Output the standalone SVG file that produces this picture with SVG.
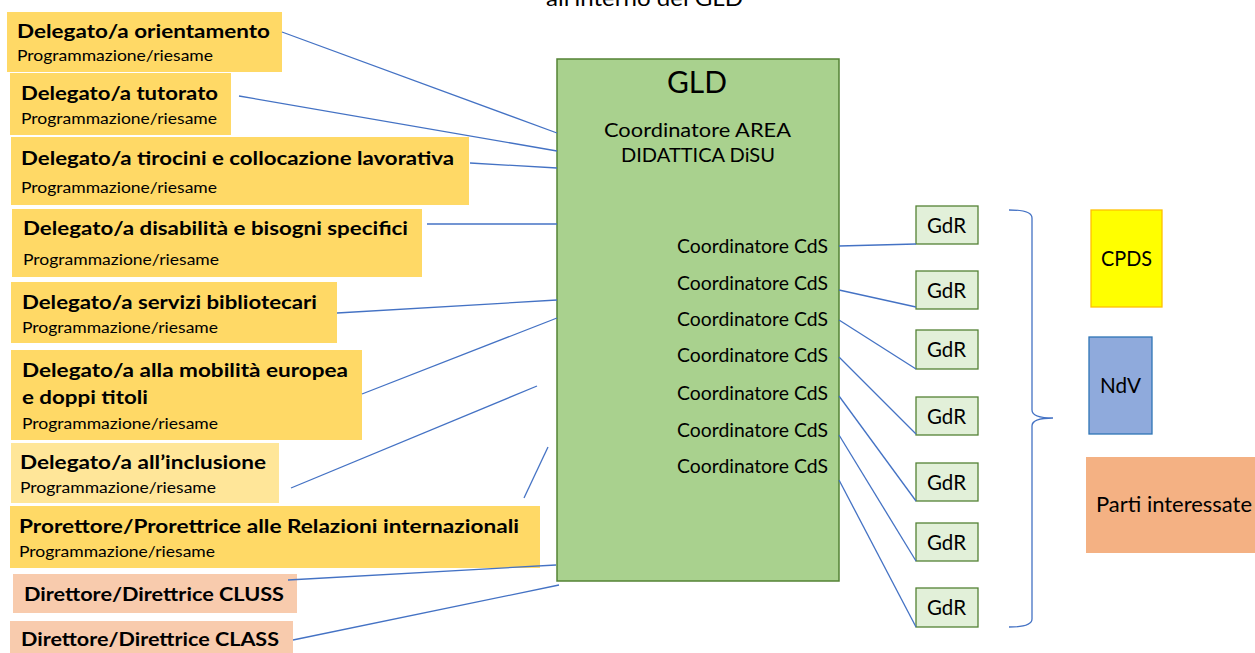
<svg xmlns="http://www.w3.org/2000/svg" width="1255" height="653" viewBox="0 0 1255 653">
<style>
text{font-family:Lato,"Open Sans","Liberation Sans",sans-serif;fill:#000}
.t{font-size:19.5px;font-weight:bold}
.s{font-size:15.3px}
.y{fill:#FFD966}
.yl{fill:#FFE699}
.p{fill:#F8CBAD}
.gdr{fill:#E2F0D9;stroke:#548235;stroke-width:1.3}
.gt{font-size:21px}
.cds{font-size:18.5px}
.c line,.c path{stroke:#4472C4;stroke-width:1.3;fill:none}
</style>
<rect width="1255" height="653" fill="#fff"/>
<text x="546" y="6" font-size="21" textLength="197" lengthAdjust="spacingAndGlyphs">all’interno del GLD</text>

<g id="n-orientamento"><rect class="y" x="7" y="12" width="275" height="60"/>
<text class="t" x="17" y="38" textLength="253" lengthAdjust="spacingAndGlyphs">Delegato/a orientamento</text>
<text class="s" x="17" y="61" textLength="196" lengthAdjust="spacingAndGlyphs">Programmazione/riesame</text></g>

<g id="n-tutorato"><rect class="y" x="10" y="73" width="221" height="62"/>
<text class="t" x="21" y="100" textLength="197" lengthAdjust="spacingAndGlyphs">Delegato/a tutorato</text>
<text class="s" x="21" y="124" textLength="196" lengthAdjust="spacingAndGlyphs">Programmazione/riesame</text></g>

<g id="n-tirocini"><rect class="y" x="11" y="137" width="458" height="68"/>
<text class="t" x="21" y="165" textLength="433" lengthAdjust="spacingAndGlyphs">Delegato/a tirocini e collocazione lavorativa</text>
<text class="s" x="21" y="193" textLength="196" lengthAdjust="spacingAndGlyphs">Programmazione/riesame</text></g>

<g id="n-disabilita"><rect class="y" x="12" y="209" width="410" height="68"/>
<text class="t" x="23" y="235" textLength="385" lengthAdjust="spacingAndGlyphs">Delegato/a disabilità e bisogni specifici</text>
<text class="s" x="23" y="265" textLength="196" lengthAdjust="spacingAndGlyphs">Programmazione/riesame</text></g>

<g id="n-biblioteche"><rect class="y" x="11" y="282" width="326" height="61"/>
<text class="t" x="22" y="309" textLength="295" lengthAdjust="spacingAndGlyphs">Delegato/a servizi bibliotecari</text>
<text class="s" x="22" y="333" textLength="196" lengthAdjust="spacingAndGlyphs">Programmazione/riesame</text></g>

<g id="n-mobilita"><rect class="y" x="11" y="350" width="351" height="90"/>
<text class="t" x="22" y="377" textLength="326" lengthAdjust="spacingAndGlyphs">Delegato/a alla mobilità europea</text>
<text class="t" x="22" y="404" textLength="126" lengthAdjust="spacingAndGlyphs">e doppi titoli</text>
<text class="s" x="22" y="429" textLength="196" lengthAdjust="spacingAndGlyphs">Programmazione/riesame</text></g>

<g id="n-inclusione"><rect class="yl" x="11" y="443" width="268" height="60"/>
<text class="t" x="20" y="469" textLength="246" lengthAdjust="spacingAndGlyphs">Delegato/a all’inclusione</text>
<text class="s" x="20" y="493" textLength="196" lengthAdjust="spacingAndGlyphs">Programmazione/riesame</text></g>

<g id="n-prorettore"><rect class="y" x="10" y="506" width="530" height="62"/>
<text class="t" x="19" y="533" textLength="500" lengthAdjust="spacingAndGlyphs">Prorettore/Prorettrice alle Relazioni internazionali</text>
<text class="s" x="19" y="557" textLength="196" lengthAdjust="spacingAndGlyphs">Programmazione/riesame</text></g>

<g id="n-cluss"><rect class="p" x="13" y="574" width="284" height="39"/>
<text class="t" x="24" y="601" textLength="260" lengthAdjust="spacingAndGlyphs">Direttore/Direttrice CLUSS</text></g>

<g id="n-class"><rect class="p" x="10" y="621" width="283" height="40"/>
<text class="t" x="21" y="646" textLength="258" lengthAdjust="spacingAndGlyphs">Direttore/Direttrice CLASS</text></g>

<g id="n-gld"><rect x="557" y="59" width="282" height="522" fill="#A9D18E" stroke="#548235" stroke-width="1.5"/>
<text x="667" y="93" font-size="30.5" textLength="60" lengthAdjust="spacingAndGlyphs">GLD</text>
<text x="604" y="137" font-size="19.5" textLength="187" lengthAdjust="spacingAndGlyphs">Coordinatore AREA</text>
<text x="621" y="162" font-size="19.5" textLength="154" lengthAdjust="spacingAndGlyphs">DIDATTICA DiSU</text>
<text class="cds" x="677" y="253" textLength="151" lengthAdjust="spacingAndGlyphs">Coordinatore CdS</text>
<text class="cds" x="677" y="290" textLength="151" lengthAdjust="spacingAndGlyphs">Coordinatore CdS</text>
<text class="cds" x="677" y="326" textLength="151" lengthAdjust="spacingAndGlyphs">Coordinatore CdS</text>
<text class="cds" x="677" y="362" textLength="151" lengthAdjust="spacingAndGlyphs">Coordinatore CdS</text>
<text class="cds" x="677" y="400" textLength="151" lengthAdjust="spacingAndGlyphs">Coordinatore CdS</text>
<text class="cds" x="677" y="437" textLength="151" lengthAdjust="spacingAndGlyphs">Coordinatore CdS</text>
<text class="cds" x="677" y="473" textLength="151" lengthAdjust="spacingAndGlyphs">Coordinatore CdS</text></g>

<g id="n-gdr1"><rect class="gdr" x="916" y="206" width="62" height="38"/><text class="gt" x="927" y="233" textLength="39" lengthAdjust="spacingAndGlyphs">GdR</text></g>
<g id="n-gdr2"><rect class="gdr" x="916" y="271" width="62" height="38"/><text class="gt" x="927" y="298" textLength="39" lengthAdjust="spacingAndGlyphs">GdR</text></g>
<g id="n-gdr3"><rect class="gdr" x="916" y="330" width="62" height="39"/><text class="gt" x="927" y="357" textLength="39" lengthAdjust="spacingAndGlyphs">GdR</text></g>
<g id="n-gdr4"><rect class="gdr" x="916" y="397" width="62" height="38"/><text class="gt" x="927" y="424" textLength="39" lengthAdjust="spacingAndGlyphs">GdR</text></g>
<g id="n-gdr5"><rect class="gdr" x="916" y="463" width="62" height="38"/><text class="gt" x="927" y="490" textLength="39" lengthAdjust="spacingAndGlyphs">GdR</text></g>
<g id="n-gdr6"><rect class="gdr" x="916" y="523" width="62" height="38"/><text class="gt" x="927" y="550" textLength="39" lengthAdjust="spacingAndGlyphs">GdR</text></g>
<g id="n-gdr7"><rect class="gdr" x="916" y="588" width="62" height="39"/><text class="gt" x="927" y="615" textLength="39" lengthAdjust="spacingAndGlyphs">GdR</text></g>

<g id="n-cpds"><rect x="1091" y="210" width="71" height="97" fill="#FFFF00" stroke="#FFC000" stroke-width="1.3"/>
<text x="1101" y="266" font-size="21" textLength="51" lengthAdjust="spacingAndGlyphs">CPDS</text></g>
<g id="n-ndv"><rect x="1089" y="337" width="63" height="97" fill="#8FAADC" stroke="#2E75B6" stroke-width="1.3"/>
<text x="1100" y="393" font-size="21" textLength="41" lengthAdjust="spacingAndGlyphs">NdV</text></g>
<g id="n-parti"><rect x="1086" y="457" width="172" height="96" fill="#F4B183"/>
<text x="1096" y="512" font-size="22" textLength="156" lengthAdjust="spacingAndGlyphs">Parti interessate</text></g>

<g id="connectors" class="c">
<line x1="282" y1="32" x2="557" y2="133"/>
<line x1="239" y1="96" x2="557" y2="151"/>
<line x1="470" y1="163" x2="557" y2="168"/>
<line x1="427" y1="224" x2="557" y2="224"/>
<line x1="337" y1="313" x2="557" y2="300"/>
<line x1="362" y1="394" x2="557" y2="318"/>
<line x1="537" y1="386" x2="291" y2="488"/>
<line x1="548" y1="447" x2="524" y2="498"/>
<line x1="288" y1="580" x2="556" y2="565"/>
<line x1="293" y1="640" x2="559" y2="585"/>
<line x1="839" y1="246" x2="916" y2="244"/>
<line x1="839" y1="290" x2="916" y2="307"/>
<line x1="839" y1="320" x2="916" y2="369"/>
<line x1="839" y1="357" x2="916" y2="434"/>
<line x1="839" y1="396" x2="916" y2="501"/>
<line x1="839" y1="435" x2="916" y2="561"/>
<line x1="839" y1="480" x2="916" y2="627"/>
<path d="M1009,210 Q1032,210 1032,218 L1032,410 Q1032,418 1053,418 Q1032,418 1032,426 L1032,619 Q1032,627 1009,627"/>
</g>
</svg>
